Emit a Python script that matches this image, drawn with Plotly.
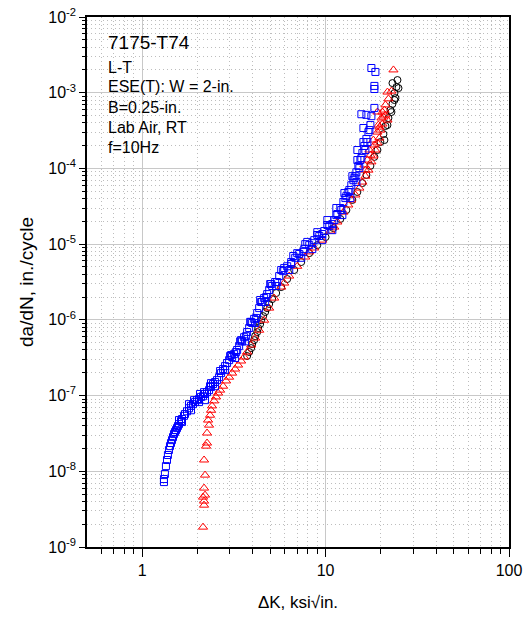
import plotly.graph_objects as go

# ---- data ----
blue_dk = [1.314, 1.314, 1.330, 1.347, 1.365, 1.381, 1.399, 1.417, 1.435, 1.453, 1.472, 1.490, 1.509, 1.529,
           1.548, 1.567, 1.587, 1.627, 1.648, 1.690, 1.711, 1.755, 1.800, 1.845, 1.892, 1.941, 1.990, 2.041,
           2.094, 2.146, 2.201, 2.257, 2.315, 2.373, 2.434, 2.496, 2.559, 2.626, 2.692, 2.761, 2.831, 2.903,
           2.978, 3.092, 3.171, 3.293, 3.377, 3.506, 3.596, 3.734, 3.830, 3.977, 4.078, 4.236, 4.343, 4.509,
           4.624, 4.803, 4.925, 5.113, 5.311, 5.585, 5.873, 6.175, 6.495, 6.832, 7.182, 7.647, 8.144, 8.677,
           9.240, 9.84, 10.48, 11.16, 11.59, 12.03, 12.50, 12.98, 13.48, 13.81, 14.35, 14.72, 15.09, 15.48,
           15.87, 16.27, 16.69, 17.12, 17.55,
           15.67, 16.69, 17.77, 18.45, 18.45, 18.45, 17.77, 18.69,
           2.067, 2.344, 2.659, 3.015, 3.419, 3.878, 4.397, 4.987, 5.727, 6.662, 7.745, 9.01, 10.22, 11.44,
           12.66, 13.99, 14.90, 16.07,
           2.201, 2.496, 2.831, 3.211, 3.640, 4.129, 4.683, 5.378, 6.333, 7.364, 8.46, 9.59, 10.88, 12.34,
           13.65, 14.72, 1.587, 1.800,
           3.052, 3.251, 3.462, 3.687, 3.927, 4.182, 4.453, 4.742, 5.050, 5.446, 5.946, 6.495, 7.006, 7.553,
           7.943, 8.46, 9.01, 9.59, 10.22, 10.88, 11.44, 12.18, 12.82, 13.30, 14.17, 14.54, 15.28, 15.67,
           16.48, 16.90, 17.33, 14.90, 16.07,
           1.917, 2.174, 2.373, 1.845, 1.648, 2.041]
blue_dadn = [7.2e-9, 7.9e-9, 9.2e-9, 1.17e-8, 1.41e-8, 1.64e-8, 1.91e-8, 2.15e-8, 2.36e-8, 2.58e-8, 2.83e-8,
             3.10e-8, 3.30e-8, 3.50e-8, 3.72e-8, 3.96e-8, 4.2e-8, 4.6e-8, 4.9e-8, 5.4e-8, 5.7e-8, 6.2e-8,
             6.8e-8, 7.3e-8, 7.7e-8, 8.2e-8, 8.7e-8, 9.0e-8, 9.6e-8, 9.8e-8, 1.05e-7, 1.11e-7, 1.18e-7,
             1.30e-7, 1.42e-7, 1.51e-7, 1.60e-7, 1.75e-7, 1.98e-7, 2.24e-7, 2.45e-7, 2.69e-7, 2.94e-7,
             3.23e-7, 3.53e-7, 4.0e-7, 4.5e-7, 5.2e-7, 5.9e-7, 6.9e-7, 7.8e-7, 9.1e-7, 1.03e-6, 1.23e-6,
             1.43e-6, 1.72e-6, 1.94e-6, 2.19e-6, 2.48e-6, 2.8e-6, 3.16e-6, 3.79e-6, 4.4e-6, 5.1e-6, 5.8e-6,
             6.6e-6, 7.4e-6, 8.6e-6, 9.7e-6, 1.13e-5, 1.28e-5, 1.49e-5, 1.73e-5, 2.08e-5, 2.50e-5, 3.00e-5,
             3.60e-5, 4.3e-5, 5.2e-5, 6.0e-5, 7.5e-5, 8.9e-5, 1.08e-4, 1.29e-4, 1.60e-4, 1.98e-4, 2.45e-4,
             3.02e-4, 3.74e-4,
             5.2e-4, 5.1e-4, 4.9e-4, 6.3e-4, 1.23e-3, 1.12e-3, 2.12e-3, 1.88e-3,
             1.05e-7, 1.33e-7, 2.11e-7, 3.33e-7, 5.2e-7, 9.4e-7, 1.83e-6, 2.97e-6, 4.55e-6, 6.97e-6, 1.0e-5,
             1.44e-5, 2.08e-5, 3.0e-5, 4.73e-5, 7.9e-5, 1.29e-4, 2.23e-4,
             8.7e-8, 1.33e-7, 2.17e-7, 3.13e-7, 5.2e-7, 9.1e-7, 1.72e-6, 2.8e-6, 4.55e-6, 6.6e-6, 8.6e-6,
             1.13e-5, 1.53e-5, 2.42e-5, 4.06e-5, 6.6e-5, 4.75e-8, 7.7e-8,
             3.43e-7, 3.76e-7, 5.4e-7, 6.1e-7, 9.4e-7, 1.06e-6, 1.72e-6, 2.0e-6, 2.97e-6, 3.16e-6, 4.83e-6,
             5.46e-6, 7.6e-6, 7.9e-6, 1.07e-5, 1.03e-5, 1.32e-5, 1.36e-5, 1.79e-5, 1.84e-5, 2.42e-5, 2.82e-5,
             4.06e-5, 4.88e-5, 7.0e-5, 7.9e-5, 1.01e-4, 1.37e-4, 1.75e-4, 2.23e-4, 3.21e-4, 1.75e-4, 3.42e-4,
             8.7e-8, 1.11e-7, 1.46e-7, 6.4e-8, 4.47e-8, 8.2e-8]

red_dk = [2.146, 2.174, 2.174, 2.146, 2.201, 2.174, 2.201, 2.174, 2.229, 2.257, 2.257, 2.315, 2.286, 2.344,
          2.373, 2.403, 2.466, 2.527, 2.593, 2.659, 2.761, 2.867, 2.978, 3.092, 3.211, 3.334, 3.462, 3.596,
          3.734, 3.927, 4.129, 4.343, 4.624, 4.925, 5.245, 5.727, 6.333, 7.006, 7.745, 8.677, 9.59, 10.61,
          11.59, 12.50, 13.30, 13.81, 14.54, 15.28, 15.87, 16.48, 17.12, 17.77, 18.22, 18.69, 19.17, 19.65,
          19.90, 20.41, 20.67, 20.41, 21.20, 22.01, 21.74, 22.86, 23.44, 19.17, 16.27, 18.45, 19.41, 20.93,
          21.74, 17.33,
          5.946, 8.144, 11.16, 16.90, 18.22, 19.17, 20.16, 21.20, 19.65, 17.55, 16.48]
red_dadn = [1.83e-9, 3.57e-9, 4.04e-9, 4.56e-9, 4.85e-9, 6.0e-9, 8.9e-9, 1.41e-8, 2.15e-8, 2.36e-8, 3.2e-8,
            4.07e-8, 4.75e-8, 5.5e-8, 6.4e-8, 7.3e-8, 8.5e-8, 9.6e-8, 1.08e-7, 1.18e-7, 1.33e-7, 1.56e-7,
            1.75e-7, 1.98e-7, 2.24e-7, 2.53e-7, 2.86e-7, 3.23e-7, 3.76e-7, 4.65e-7, 5.75e-7, 7.3e-7, 9.9e-7,
            1.43e-6, 1.94e-6, 2.71e-6, 3.79e-6, 5.1e-6, 6.76e-6, 8.9e-6, 1.13e-5, 1.49e-5, 1.96e-5, 2.65e-5,
            3.29e-5, 3.83e-5, 4.46e-5, 5.5e-5, 6.6e-5, 7.9e-5, 9.5e-5, 1.22e-4, 1.46e-4, 1.75e-4, 2.17e-4,
            2.52e-4, 3.21e-4, 3.86e-4, 4.78e-4, 5.56e-4, 6.9e-4, 8.3e-4, 1.02e-3, 1.05e-3, 2.0e-3, 5.56e-4,
            1.11e-4, 2.04e-4, 3.74e-4, 5.9e-4, 4.36e-4, 1.75e-4,
            3.06e-6, 7.9e-6, 1.68e-5, 1.29e-4, 2.37e-4, 3.02e-4, 4.63e-4, 5.07e-4, 3.52e-4, 1.50e-4, 9.5e-5]

black_dk = [3.734, 3.830, 3.927, 3.977, 4.078, 4.129, 4.236, 4.289, 4.397, 4.453, 4.567, 4.683, 4.803, 4.925,
            5.113, 5.378, 5.727, 6.175, 6.745, 7.364, 8.144, 9.01, 10.0, 11.02, 12.03, 12.98, 13.99, 14.90,
            15.87, 16.69, 17.55, 18.45, 19.17, 19.90, 20.67, 21.20, 22.01, 22.58, 23.15, 24.04, 23.74, 23.15,
            24.65, 24.34, 21.74, 22.86, 20.93, 23.74, 24.97]
black_dadn = [3.33e-7, 3.76e-7, 4.24e-7, 4.79e-7, 5.4e-7, 6.1e-7, 6.9e-7, 7.8e-7, 8.8e-7, 9.9e-7, 1.12e-6,
              1.27e-6, 1.43e-6, 1.62e-6, 1.88e-6, 2.26e-6, 2.71e-6, 3.46e-6, 4.55e-6, 5.8e-6, 7.6e-6, 9.7e-6,
              1.24e-5, 1.63e-5, 2.15e-5, 2.82e-5, 3.83e-5, 4.88e-5, 6.4e-5, 8.2e-5, 1.08e-4, 1.42e-4, 1.75e-4,
              2.23e-4, 2.84e-4, 3.63e-4, 4.63e-4, 5.9e-4, 7.1e-4, 8.5e-4, 9.9e-4, 1.34e-3, 1.47e-3, 1.19e-3,
              3.74e-4, 5.56e-4, 2.37e-4, 8.0e-4, 1.15e-3]

x_major = [1, 10, 100]
x_major_text = ["1", "10", "100"]
x_minor = [0.6, 0.7, 0.8, 0.9, 2, 3, 4, 5, 6, 7, 8, 9, 20, 30, 40, 50, 60, 70, 80, 90]
y_exps = [-9, -8, -7, -6, -5, -4, -3, -2]

notes = ["L-T", "ESE(T): W = 2-in.", "B=0.25-in.", "Lab Air, RT", "f=10Hz"]
title_note = "7175-T74"

FONT = "Liberation Sans, Arial, sans-serif"

y_major = [10.0 ** e for e in y_exps]
y_major_text = ["10<sup>%d</sup>" % e for e in y_exps]
y_minor = [m * 10.0 ** e for e in y_exps[:-1] for m in range(2, 10)]

fig = go.Figure()
fig.add_trace(go.Scatter(x=black_dk, y=black_dadn, mode="markers",
                         marker=dict(symbol="circle-open", size=7, color="black", line=dict(width=1))))
fig.add_trace(go.Scatter(x=red_dk, y=red_dadn, mode="markers",
                         marker=dict(symbol="triangle-up-open", size=8, color="red", line=dict(width=1))))
fig.add_trace(go.Scatter(x=blue_dk, y=blue_dadn, mode="markers",
                         marker=dict(symbol="square-open", size=7, color="blue", line=dict(width=1))))

fig.update_layout(
    width=525, height=617,
    margin=dict(l=87, r=16, t=17, b=70, autoexpand=False),
    paper_bgcolor="white", plot_bgcolor="white",
    showlegend=False,
    font=dict(family=FONT, size=16, color="black"),
)

fig.update_xaxes(
    type="log", range=[-0.30103, 2], automargin=False, ticklabeloverflow="allow",
    tickvals=x_major, ticktext=x_major_text,
    ticks="outside", ticklen=8, tickwidth=1, tickcolor="black",
    showline=True, linecolor="black", linewidth=1.5, mirror=True,
    showgrid=True, gridcolor="#c8c8c8", gridwidth=1,
    tickfont=dict(size=16),
    minor=dict(tickvals=x_minor, ticks="outside", ticklen=5, tickcolor="black",
               showgrid=True, gridcolor="#bdbdbd", griddash="1px,3px", gridwidth=1),
    title=dict(text="ΔK, ksi√in.", font=dict(size=17), standoff=18),
)
fig.update_yaxes(
    type="log", range=[-9, -2], automargin=False, ticklabeloverflow="allow",
    tickvals=y_major, ticktext=y_major_text,
    ticks="outside", ticklen=6, tickwidth=1, tickcolor="black",
    showline=True, linecolor="black", linewidth=1.5, mirror=True,
    showgrid=True, gridcolor="#c8c8c8", gridwidth=1,
    tickfont=dict(size=16),
    minor=dict(tickvals=y_minor, ticks="outside", ticklen=3, tickcolor="black",
               showgrid=True, gridcolor="#bdbdbd", griddash="1px,3px", gridwidth=1),
    title=dict(text="da/dN, in./cycle", font=dict(size=19), standoff=10),
)

fig.add_annotation(text=title_note, xref="paper", yref="paper", x=0.045, y=0.951,
                   xanchor="left", yanchor="middle", showarrow=False,
                   font=dict(family=FONT, size=19, color="black"))
note_y = [0.905, 0.868, 0.830, 0.792, 0.754]
for t, yy in zip(notes, note_y):
    fig.add_annotation(text=t, xref="paper", yref="paper", x=0.045, y=yy,
                       xanchor="left", yanchor="middle", showarrow=False,
                       font=dict(family=FONT, size=16, color="black"))

# remove the page's default body margin so the 525x617 figure fills the window exactly
fig.write_html("out.html", config={"displayModeBar": False},
               post_script="document.body.style.margin='0px';")
